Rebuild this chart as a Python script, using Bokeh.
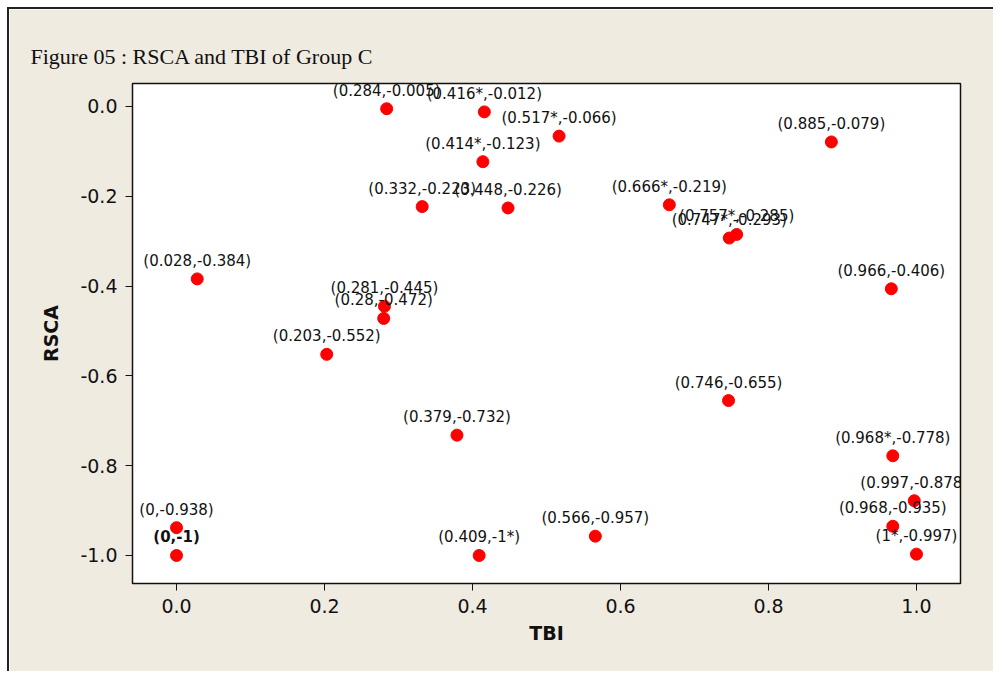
from bokeh.plotting import figure
from bokeh.models import ColumnDataSource, FixedTicker, PrintfTickFormatter
from bokeh.core.properties import value
from bokeh.embed import file_html
from bokeh.resources import INLINE

tbi = [0.284, 0.416, 0.517, 0.414, 0.332, 0.448, 0.666, 0.757, 0.747, 0.885,
       0.028, 0.966, 0.281, 0.28, 0.203, 0.746, 0.379, 0.968, 0.997, 0.968,
       1.0, 0.0, 0.0, 0.409, 0.566]
rsca = [-0.005, -0.012, -0.066, -0.123, -0.223, -0.226, -0.219, -0.285, -0.293, -0.079,
        -0.384, -0.406, -0.445, -0.472, -0.552, -0.655, -0.732, -0.778, -0.878, -0.935,
        -0.997, -0.938, -1.0, -1.0, -0.957]
labels = ["(0.284,-0.005)", "(0.416*,-0.012)", "(0.517*,-0.066)", "(0.414*,-0.123)",
          "(0.332,-0.223)", "(0.448,-0.226)", "(0.666*,-0.219)", "(0.757*,-0.285)",
          "(0.747*,-0.293)", "(0.885,-0.079)", "(0.028,-0.384)", "(0.966,-0.406)",
          "(0.281,-0.445)", "(0.28,-0.472)", "(0.203,-0.552)", "(0.746,-0.655)",
          "(0.379,-0.732)", "(0.968*,-0.778)", "(0.997,-0.878)", "(0.968,-0.935)",
          "(1*,-0.997)", "(0,-0.938)", "(0,-1)", "(0.409,-1*)", "(0.566,-0.957)"]
styles = ["bold" if l == "(0,-1)" else "normal" for l in labels]

x_ticks = [0.0, 0.2, 0.4, 0.6, 0.8, 1.0]
y_ticks = [0.0, -0.2, -0.4, -0.6, -0.8, -1.0]

src = ColumnDataSource(dict(x=tbi, y=rsca, label=labels, style=styles))

bg = "#EFEBE1"
p = figure(width=986, height=664, output_backend="svg", toolbar_location=None,
           x_range=(-0.0595, 1.0595), y_range=(-1.0624, 0.0512),
           min_border_left=123, min_border_top=74, min_border_right=35, min_border_bottom=90,
           background_fill_color="white", border_fill_color=bg)
p.styles = {"margin-left": "7px", "margin-top": "7px",
            "border-left": "2px solid #222222", "border-top": "2px solid #222222"}

p.title.text = "Figure 05 : RSCA and TBI of Group C"
p.title.text_font = "Liberation Serif"
p.title.text_font_size = "22px"
p.title.text_font_style = "normal"
p.title.text_color = "#111111"
p.title.align = "left"
p.title.offset = -102
p.title.standoff = 29

p.grid.visible = False
p.outline_line_color = "#111111"
p.outline_line_width = 1.5

for ax in (p.xaxis[0], p.yaxis[0]):
    ax.major_tick_out = 7
    ax.major_tick_in = 0
    ax.minor_tick_line_color = None
    ax.axis_line_color = "#111111"
    ax.major_tick_line_color = "#111111"
    ax.major_label_text_font = "DejaVu Sans"
    ax.major_label_text_font_size = "19px"
    ax.major_label_text_color = "#111111"
    ax.axis_label_text_font = "DejaVu Sans"
    ax.axis_label_text_font_size = "19px"
    ax.axis_label_text_font_style = "bold"
    ax.axis_label_text_color = "#111111"
    ax.formatter = PrintfTickFormatter(format="%.1f")
    ax.major_label_standoff = 8

p.xaxis.ticker = FixedTicker(ticks=x_ticks)
p.yaxis.ticker = FixedTicker(ticks=y_ticks)
p.xaxis.axis_label = "TBI"
p.yaxis.axis_label = "RSCA"
p.xaxis.axis_label_standoff = 6
p.yaxis.axis_label_standoff = 15

p.scatter("x", "y", source=src, size=12, fill_color="#FF0000", line_color="#FF0000")
p.text("x", "y", text="label", source=src, y_offset=-9, text_align="center",
       text_baseline="bottom", text_font=value("DejaVu Sans"), text_font_size="15px",
       text_font_style="style", text_color="#111111")

open("out.html", "w").write(file_html(p, INLINE))
